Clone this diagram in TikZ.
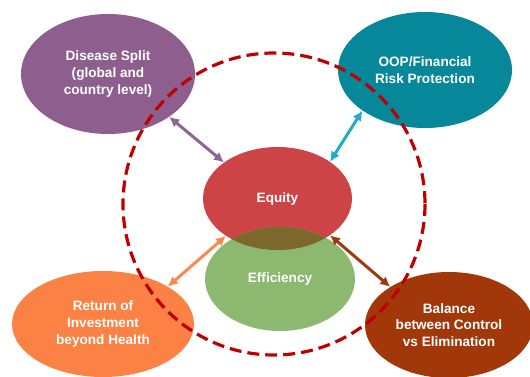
\documentclass[tikz,border=0pt]{standalone}
\usepackage{fontspec}
\setmainfont{Liberation Sans}
\usetikzlibrary{shapes.geometric,arrows.meta}
\definecolor{cPurple}{HTML}{8E5F8E}
\definecolor{cTeal}{HTML}{06879A}
\definecolor{cOrange}{HTML}{FC8144}
\definecolor{cBrown}{HTML}{A2370A}
\definecolor{cRed}{HTML}{CC4446}
\definecolor{cGreen}{HTML}{8DB870}
\definecolor{cOlive}{HTML}{7D682C}
\definecolor{cDash}{HTML}{C00000}
\definecolor{aPurple}{HTML}{8E6590}
\definecolor{aTeal}{HTML}{1EAFC6}
\definecolor{aOrange}{HTML}{F78A50}
\definecolor{aBrown}{HTML}{9E3A10}
\tikzset{
  blob/.style={ellipse, inner sep=0pt, text=white, align=center,
    font=\bfseries\fontsize{13.6}{16.8}\selectfont},
  link/.style={line width=3pt, {Latex[length=10pt,width=10pt]}-{Latex[length=10pt,width=10pt]}},
}
\begin{document}
\begin{tikzpicture}[x=1pt,y=-1pt]
\useasboundingbox (0,0) rectangle (530,376);
% outer ellipses
\node[blob, fill=cPurple, minimum width=174pt, minimum height=120pt] (ds) at (108,74) {Disease Split\\(global and\\country level)};
\node[blob, fill=cTeal, minimum width=174pt, minimum height=116pt] (oop) at (425,70) {OOP/Financial\\Risk Protection};
\node[blob, fill=cOrange, minimum width=182pt, minimum height=106pt] (roi) at (103,324) {Return of\\Investment\\beyond Health};
\node[blob, fill=cBrown, minimum width=168pt, minimum height=106pt] (bal) at (449,325) {Balance\\between Control\\vs Elimination};
% central ellipses
\node[blob, fill=cRed, minimum width=149pt, minimum height=103pt] (eq) at (277.5,198.5) {Equity};
\node[blob, fill=cGreen, minimum width=150pt, minimum height=104pt] (ef) at (280,279) {Efficiency};
\begin{scope}
  \clip (277.5,198.5) ellipse [x radius=74.5, y radius=51.5];
  \fill[cOlive] (280,279) ellipse [x radius=75, y radius=52];
\end{scope}
% dashed circle
\coordinate (cc) at (274,204);
\draw[cDash, line width=3.2pt, dash pattern=on 12pt off 6pt] (cc) circle [radius=151];
% arrows
\draw[link, aPurple] (ds.-35) -- (eq.146);
\draw[link, aTeal] (oop.213) -- (eq.35);
\draw[link, aOrange] (roi.30) -- (eq.216);
\draw[link, aBrown] (bal.147) -- (eq.-35);
\end{tikzpicture}
\end{document}
